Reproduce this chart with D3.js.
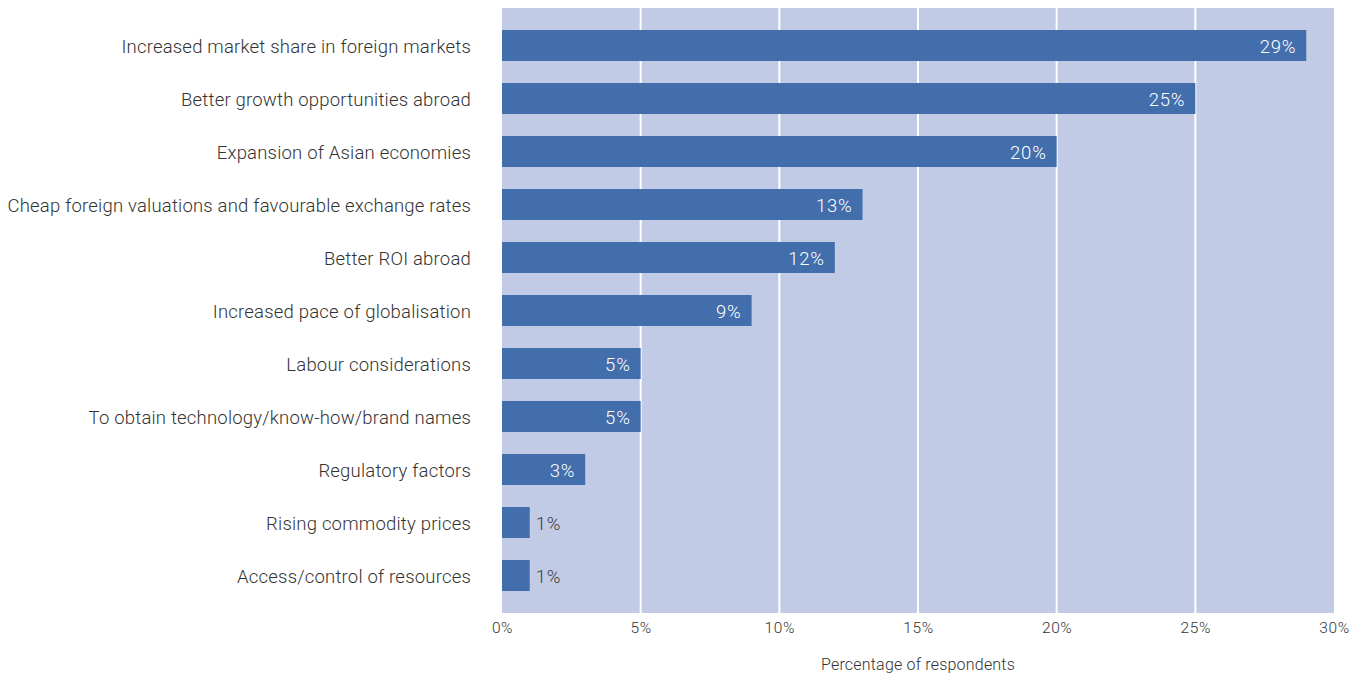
<!DOCTYPE html>
<html>
<head>
<meta charset="utf-8">
<script src="https://cdn.jsdelivr.net/npm/d3@7"></script>
<style>
  html, body { margin: 0; padding: 0; background: #fff; }
  svg { display: block; font-family: Roboto, "Noto Sans", sans-serif; }
</style>
</head>
<body>
<svg id="chart" width="1361" height="674"></svg>
<script>
// Reasons given for investing abroad (share of respondents, %)
const categories = [
  "Increased market share in foreign markets",
  "Better growth opportunities abroad",
  "Expansion of Asian economies",
  "Cheap foreign valuations and favourable exchange rates",
  "Better ROI abroad",
  "Increased pace of globalisation",
  "Labour considerations",
  "To obtain technology/know-how/brand names",
  "Regulatory factors",
  "Rising commodity prices",
  "Access/control of resources"
];
const values = [29, 25, 20, 13, 12, 9, 5, 5, 3, 1, 1];
const tickValues = [0, 5, 10, 15, 20, 25, 30];
const axisTitle = "Percentage of respondents";

const font = "Roboto, 'Noto Sans', sans-serif";
const svg = d3.select("#chart");
const plot = { left: 502, right: 1334, top: 8, bottom: 613 };

const x = d3.scaleLinear().domain([0, 30]).range([plot.left, plot.right]);
const y = d3.scaleBand().domain(categories).range([plot.top, plot.bottom])
  .paddingInner(0.415).paddingOuter(0.415);

// plot background
svg.append("rect")
  .attr("x", plot.left).attr("y", plot.top)
  .attr("width", plot.right - plot.left).attr("height", plot.bottom - plot.top)
  .attr("fill", "#c2cbe6");

// white vertical gridlines
svg.append("g").selectAll("line")
  .data(tickValues.filter(d => d > 0 && d < 30))
  .join("line")
  .attr("x1", d => x(d)).attr("x2", d => x(d))
  .attr("y1", plot.top).attr("y2", plot.bottom)
  .attr("stroke", "#fff").attr("stroke-width", 2);

// bars
svg.append("g").selectAll("rect")
  .data(values)
  .join("rect")
  .attr("x", x(0))
  .attr("y", (d, i) => y(categories[i]))
  .attr("width", d => x(d) - x(0))
  .attr("height", y.bandwidth())
  .attr("fill", "#426eac");

// value labels: inside the bar when it fits, otherwise just past its end
svg.append("g").selectAll("text")
  .data(values)
  .join("text")
  .attr("x", d => d >= 3 ? x(d) - 10 : x(d) + 6)
  .attr("y", (d, i) => y(categories[i]) + y.bandwidth() / 2 + 7.5)
  .attr("text-anchor", d => d >= 3 ? "end" : "start")
  .attr("fill", d => d >= 3 ? "#fff" : "#404040")
  .attr("font-size", 18.5)
  .attr("font-weight", 300)
  .attr("letter-spacing", 0.8)
  .text(d => d + "%");

// category axis
const yAxis = svg.append("g")
  .attr("transform", `translate(${plot.left},0)`)
  .call(d3.axisLeft(y).tickSize(0).tickPadding(31));
yAxis.select(".domain").remove();
yAxis.selectAll("text")
  .attr("font-family", font)
  .attr("font-size", 18.5)
  .attr("font-weight", 300)
  .attr("letter-spacing", 0.2)
  .attr("fill", "#333")
  .attr("dy", null)
  .attr("y", 7.5);

// percentage axis
const xAxis = svg.append("g")
  .attr("transform", `translate(0,${plot.bottom})`)
  .call(d3.axisBottom(x).tickValues(tickValues).tickFormat(d => d + "%").tickSize(0));
xAxis.select(".domain").remove();
xAxis.selectAll("text")
  .attr("font-family", font)
  .attr("font-size", 15.5)
  .attr("font-weight", 300)
  .attr("letter-spacing", 0.6)
  .attr("fill", "#333")
  .attr("dy", null)
  .attr("y", 20);

// axis title
svg.append("text")
  .attr("x", (plot.left + plot.right) / 2)
  .attr("y", 670)
  .attr("text-anchor", "middle")
  .attr("font-size", 16)
  .attr("font-weight", 300)
  .attr("letter-spacing", 0.2)
  .attr("fill", "#333")
  .text(axisTitle);
</script>
</body>
</html>
